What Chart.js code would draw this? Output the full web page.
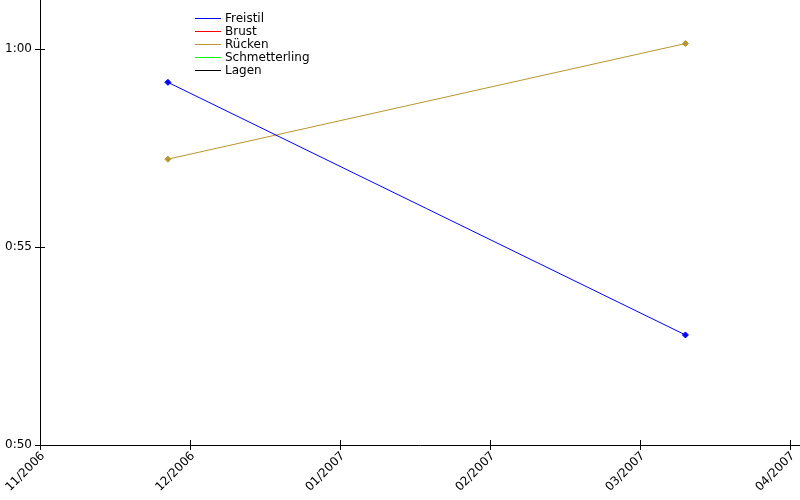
<!DOCTYPE html>
<html>
<head>
<meta charset="utf-8">
<script src="https://cdn.jsdelivr.net/npm/chart.js@4"></script>
<style>
  html, body { margin: 0; padding: 0; background: #fff; }
  #wrap { width: 800px; height: 500px; }
</style>
</head>
<body>
<div id="wrap"><canvas id="chart" width="800" height="500"></canvas></div>
<script>
// month index: 0 = 11/2006, 1 = 12/2006, ...
const monthLabels = ['11/2006', '12/2006', '01/2007', '02/2007', '03/2007', '04/2007'];
const timeTicks = [50, 55, 60];
const timeLabels = ['0:50', '0:55', '1:00'];

const seriesNames = ['Freistil', 'Brust', 'Rücken', 'Schmetterling', 'Lagen'];
const seriesColors = ['#0000ff', '#ff0000', '#b8962e', '#00ff00', '#000000'];

// dates of the swim meets (as month index) and times in seconds
const freistilX = [0.853, 4.303];
const freistilY = [59.16, 52.78];
const brustX = [];
const brustY = [];
const rueckenX = [0.853, 4.303];
const rueckenY = [57.22, 60.14];
const schmetterlingX = [];
const schmetterlingY = [];
const lagenX = [];
const lagenY = [];

const seriesX = [freistilX, brustX, rueckenX, schmetterlingX, lagenX];
const seriesY = [freistilY, brustY, rueckenY, schmetterlingY, lagenY];

const datasets = seriesNames.map((name, i) => ({
    label: name,
    data: seriesX[i].map((x, j) => ({ x: x, y: seriesY[i][j] })),
    borderColor: seriesColors[i],
    backgroundColor: seriesColors[i],
    borderWidth: 1,
    pointStyle: 'rectRot',
    pointRadius: 3,
    pointBorderWidth: 1,
    tension: 0
}));

// ticks that cross the axis line, like the original
const crossTicks = {
    id: 'crossTicks',
    afterDraw(chart) {
        const ctx = chart.ctx;
        const xs = chart.scales.x, ys = chart.scales.y;
        const area = chart.chartArea;
        ctx.save();
        ctx.strokeStyle = '#000';
        ctx.lineWidth = 1;
        ctx.beginPath();
        xs.ticks.forEach(t => {
            const px = Math.round(xs.getPixelForValue(t.value)) + 0.5;
            ctx.moveTo(px, area.bottom - 5);
            ctx.lineTo(px, area.bottom + 5);
        });
        ys.ticks.forEach(t => {
            const py = Math.round(ys.getPixelForValue(t.value)) + 0.5;
            ctx.moveTo(area.left - 5, py);
            ctx.lineTo(area.left + 5, py);
        });
        ctx.stroke();
        ctx.restore();
    }
};

// legend in the upper left, inside the plot
const cornerLegend = {
    id: 'cornerLegend',
    afterDraw(chart) {
        const ctx = chart.ctx;
        ctx.save();
        ctx.font = '12px "DejaVu Sans"';
        ctx.textBaseline = 'middle';
        chart.data.datasets.forEach((ds, i) => {
            const y = 18.5 + i * 13;
            ctx.strokeStyle = ds.borderColor;
            ctx.lineWidth = 1;
            ctx.beginPath();
            ctx.moveTo(195, y);
            ctx.lineTo(221, y);
            ctx.stroke();
            ctx.fillStyle = '#000';
            ctx.fillText(ds.label, 225, y);
        });
        ctx.restore();
    }
};

new Chart(document.getElementById('chart'), {
    type: 'line',
    data: { datasets: datasets },
    plugins: [crossTicks, cornerLegend],
    options: {
        responsive: false,
        animation: false,
        layout: { padding: 0, autoPadding: false },
        plugins: {
            legend: { display: false },
            tooltip: { enabled: false }
        },
        scales: {
            x: {
                type: 'linear',
                min: 0,
                max: 5.067,
                afterBuildTicks: s => { s.ticks = monthLabels.map((l, i) => ({ value: i })); },
                afterFit: s => {
                    s.height = 55;
                    s.paddingLeft = 0; s.paddingRight = 0; s.paddingTop = 0; s.paddingBottom = 0;
                },
                border: { display: true, color: '#000', width: 1 },
                grid: { display: false, drawTicks: false },
                ticks: {
                    callback: (v) => monthLabels[v],
                    autoSkip: false,
                    maxRotation: 45,
                    minRotation: 45,
                    padding: 4,
                    labelOffset: 3,
                    color: '#000',
                    font: { family: 'DejaVu Sans', size: 12 }
                }
            },
            y: {
                type: 'linear',
                min: 50,
                max: 61.24,
                afterBuildTicks: s => { s.ticks = timeTicks.map(v => ({ value: v })); },
                afterFit: s => {
                    s.width = 40;
                    s.paddingLeft = 0; s.paddingRight = 0; s.paddingTop = 0; s.paddingBottom = 0;
                },
                border: { display: true, color: '#000', width: 1 },
                grid: { display: false, drawTicks: false },
                ticks: {
                    callback: (v) => timeLabels[timeTicks.indexOf(v)],
                    padding: 8,
                    color: '#000',
                    font: { family: 'DejaVu Sans', size: 12 }
                }
            }
        }
    }
});
</script>
</body>
</html>
